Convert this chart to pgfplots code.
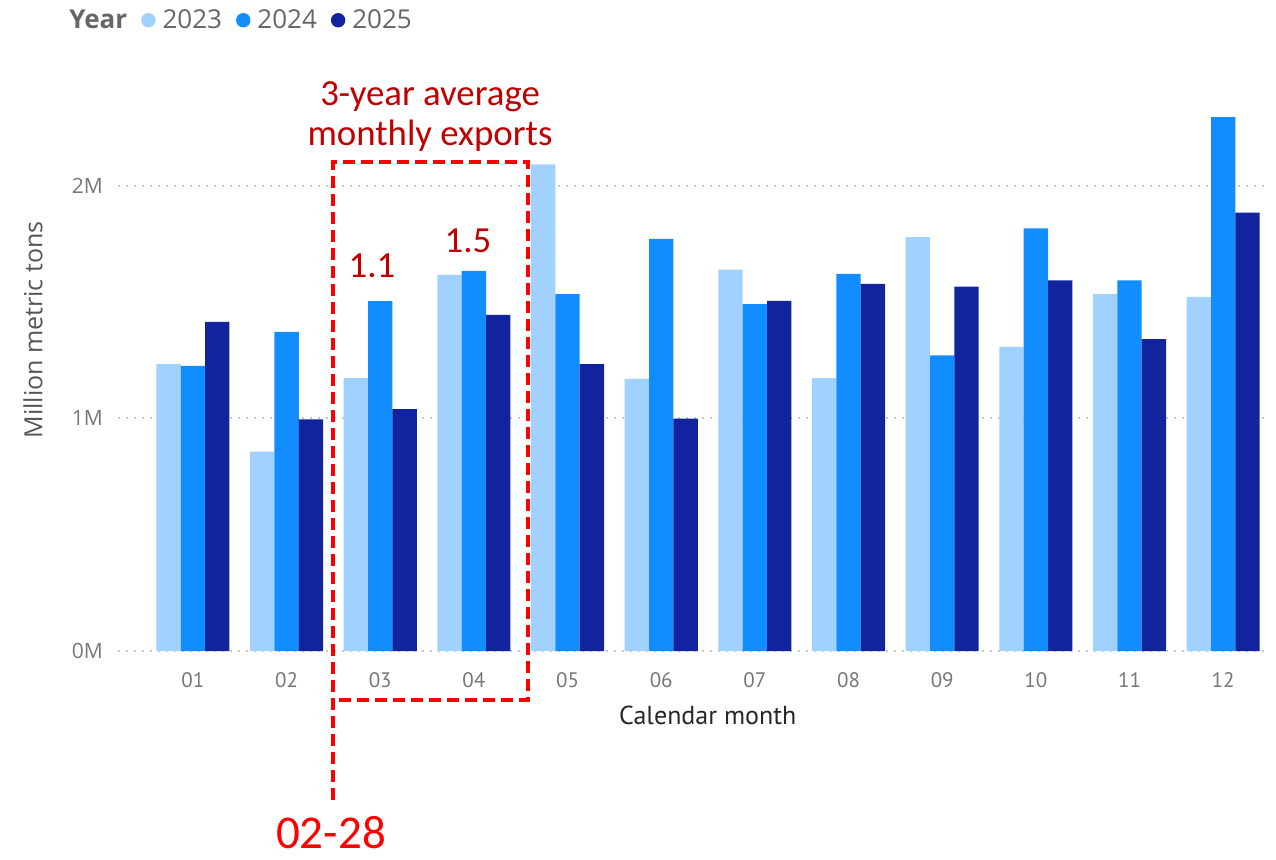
\documentclass[border=0pt]{standalone}
\usepackage{pgfplots}
\pgfplotsset{compat=1.18}
\usepackage{fontspec}
\setmainfont{Open Sans}
\newfontfamily\dinfont{PT Sans}
\newfontfamily\calfont{Carlito}
\definecolor{c23}{HTML}{A0D1FF}
\definecolor{c24}{HTML}{118DFF}
\definecolor{c25}{HTML}{12239E}
\definecolor{dred}{HTML}{C00000}
\definecolor{bred}{HTML}{FF0000}
\definecolor{tickgray}{HTML}{777777}
\definecolor{labgray}{HTML}{555555}
\definecolor{leggray}{HTML}{666666}
\begin{document}
\begin{tikzpicture}[x=0.5pt,y=0.5pt]
\useasboundingbox (0,0) rectangle (1276,859);
\begin{axis}[
  at={(59pt,104pt)}, anchor=south west,
  scale only axis, width=576pt, height=267.5pt,
  xmin=0.2, xmax=12.5, ymin=0, ymax=2.3,
  ybar=0pt, bar width=0.26,
  axis line style={draw=none}, tick style={draw=none},
  ytick={0,1,2}, yticklabels={0M,1M,2M},
  ymajorgrids, grid style={draw=black!22, line width=1pt, dash pattern=on 1pt off 3pt},
  xtick={1,2,3,4,5,6,7,8,9,10,11,12},
  xticklabels={01,02,03,04,05,06,07,08,09,10,11,12},
  xticklabel style={font=\dinfont\fontsize{10.5}{12}\selectfont, text=tickgray, yshift=-3pt},
  yticklabel style={font=\fontsize{10.5}{12}\selectfont, text=tickgray, xshift=-4pt},
  xlabel={Calendar month},
  xlabel style={at={(axis description cs:0.512,-0.12)}, anchor=center, font=\dinfont\fontsize{13}{15}\selectfont, text=black!85},
  ylabel={Million metric tons},
  ylabel style={at={(axis description cs:-0.0738,0.6)}, anchor=center, font=\fontsize{12.5}{14}\selectfont, text=labgray},
  legend columns=-1,
  legend style={at={(axis description cs:-0.0486,1.179)}, anchor=west, draw=none, fill=none,
    font=\fontsize{13}{15}\selectfont, text=leggray, inner sep=0pt,
    nodes={inner sep=0.5pt},
    /tikz/every odd column/.append style={column sep=3pt},
    /tikz/every even column/.append style={column sep=6.5pt}},
]
\addlegendimage{empty legend}
\addlegendentry{\textbf{Year}\hspace{6pt}}
\addplot[fill=c23, draw=none, legend image code/.code={\fill[c23] (3.6pt,0pt) circle (3.6pt);}] coordinates {
(1,1.234) (2,0.857) (3,1.174) (4,1.617) (5,2.092) (6,1.170) (7,1.640) (8,1.173) (9,1.779) (10,1.308) (11,1.535) (12,1.522)};
\addlegendentry{2023}
\addplot[fill=c24, draw=none, legend image code/.code={\fill[c24] (3.6pt,0pt) circle (3.6pt);}] coordinates {
(1,1.226) (2,1.372) (3,1.504) (4,1.634) (5,1.534) (6,1.772) (7,1.491) (8,1.621) (9,1.271) (10,1.817) (11,1.593) (12,2.295)};
\addlegendentry{2024}
\addplot[fill=c25, draw=none, legend image code/.code={\fill[c25] (3.6pt,0pt) circle (3.6pt);}] coordinates {
(1,1.415) (2,0.996) (3,1.040) (4,1.445) (5,1.233) (6,0.999) (7,1.505) (8,1.578) (9,1.566) (10,1.593) (11,1.341) (12,1.885)};
\addlegendentry{2025}
\end{axis}
\draw[bred, line width=1.75pt, dash pattern=on 6pt off 3pt] (333,59) -- (333,697) -- (528,697) -- (528,159) -- (333,159);
\node[text=dred, font=\calfont\fontsize{18.4}{20}\selectfont, align=center] at (430,742) {3-year average\\monthly exports};
\node[text=dred, font=\calfont\fontsize{18.4}{20}\selectfont] at (372,593) {1.1};
\node[text=dred, font=\calfont\fontsize{18.4}{20}\selectfont] at (468,618) {1.5};
\node[text=bred, font=\calfont\fontsize{23.5}{26}\selectfont, inner sep=0pt] at (331,26) {02-28};
\end{tikzpicture}
\end{document}
